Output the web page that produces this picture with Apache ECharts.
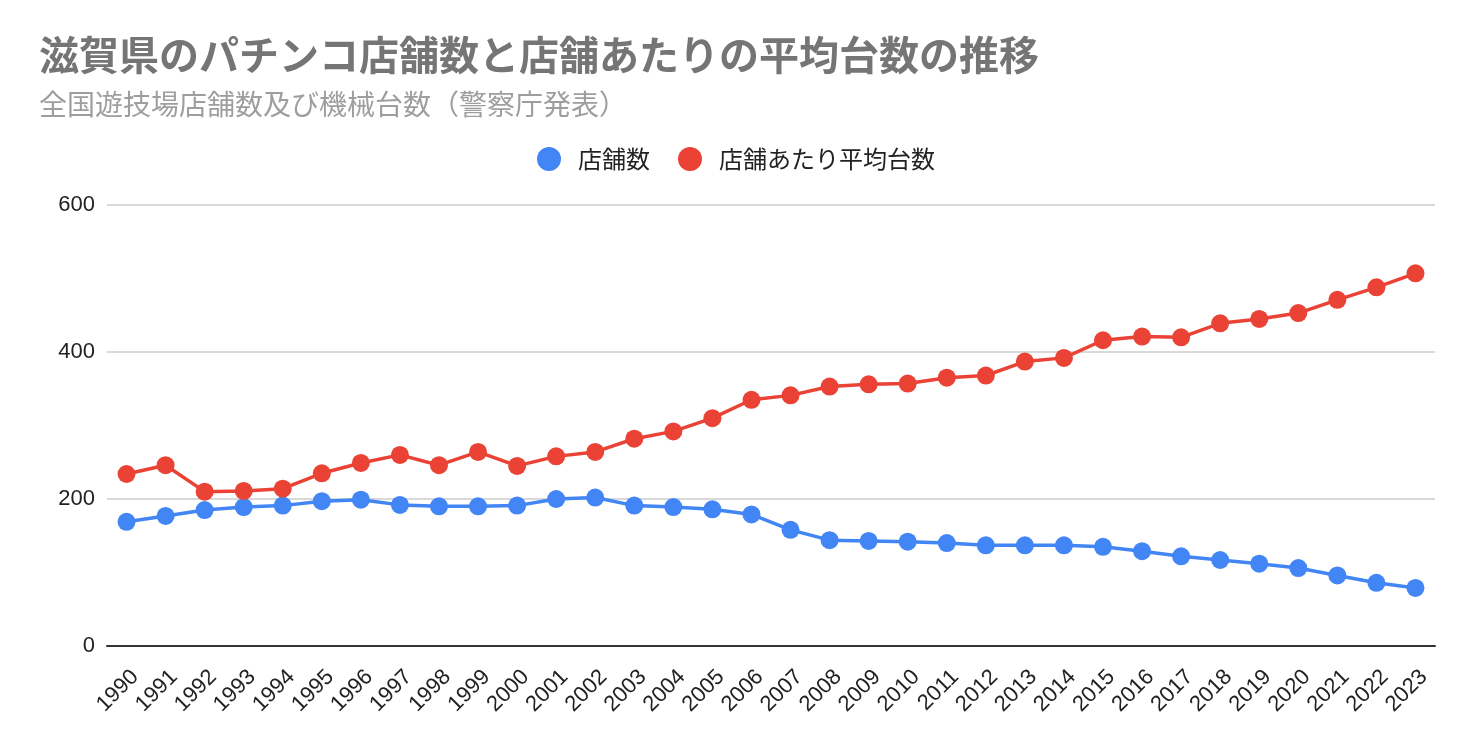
<!DOCTYPE html>
<html><head><meta charset="utf-8">
<script src="https://cdn.jsdelivr.net/npm/echarts@6/dist/echarts.min.js"></script>
<style>html,body{margin:0;padding:0;background:#fff}#c{width:1472px;height:742px}</style>
</head><body><div id="c"></div>
<script>
const years = ['1990','1991','1992','1993','1994','1995','1996','1997','1998','1999','2000','2001','2002','2003','2004','2005','2006','2007','2008','2009','2010','2011','2012','2013','2014','2015','2016','2017','2018','2019','2020','2021','2022','2023'];
const storeCount = [169,177,185,189,191,197,199,192,190,190,191,200,202,191,189,186,179,158,144,143,142,140,137,137,137,135,129,122,117,112,106,96,86,79];
const avgMachines = [234,246,210,211,214,235,249,260,246,264,245,258,264,282,292,310,335,341,353,356,357,365,368,387,392,416,421,420,439,445,453,471,488,507];
const yTicks = [0,200,400,600];
const titleText = '滋賀県のパチンコ店舗数と店舗あたりの平均台数の推移';
const subtitleText = '全国遊技場店舗数及び機械台数（警察庁発表）';
const font = '"Noto Sans CJK JP","Noto Sans",sans-serif';
const latin = '"Liberation Sans",Arial,sans-serif';
const chart = echarts.init(document.getElementById('c'));
chart.setOption({
  backgroundColor:'#fff',
  title:[
    {text:titleText,left:34,top:30,
     textStyle:{fontFamily:font,fontSize:40,fontWeight:'bold',color:'#757575'}},
    {text:subtitleText,left:34,top:85,
     textStyle:{fontFamily:font,fontSize:28,fontWeight:'normal',color:'#9e9e9e'}}
  ],
  legend:{
    top:142, left:'center',
    icon:'circle', itemWidth:24, itemHeight:24, itemGap:28,
    textStyle:{fontFamily:font,fontSize:24,color:'#222',padding:[0,0,0,12]},
    data:['店舗数','店舗あたり平均台数']
  },
  grid:{left:107,right:37,top:205,bottom:96},
  xAxis:{
    type:'category', data:years, boundaryGap:true,
    axisLine:{lineStyle:{color:'#333',width:2}},
    axisTick:{show:false},
    axisLabel:{rotate:45,fontFamily:latin,fontSize:22,color:'#222',interval:0,margin:19,
               verticalAlign:'top',lineHeight:24}
  },
  yAxis:{
    type:'value', min:yTicks[0], max:yTicks[yTicks.length-1], interval:200,
    axisLine:{show:false}, axisTick:{show:false},
    splitLine:{lineStyle:{color:'#cccccc',width:1.5}},
    axisLabel:{fontFamily:latin,fontSize:22,color:'#222',margin:12}
  },
  series:[
    {name:'店舗数',type:'line',data:storeCount,color:'#4285F4',symbol:'circle',symbolSize:18,
     lineStyle:{width:3.5},itemStyle:{color:'#4285F4'}},
    {name:'店舗あたり平均台数',type:'line',data:avgMachines,color:'#EA4335',symbol:'circle',symbolSize:18,
     lineStyle:{width:3.5},itemStyle:{color:'#EA4335'}}
  ],
  animation:false
});
</script></body></html>
